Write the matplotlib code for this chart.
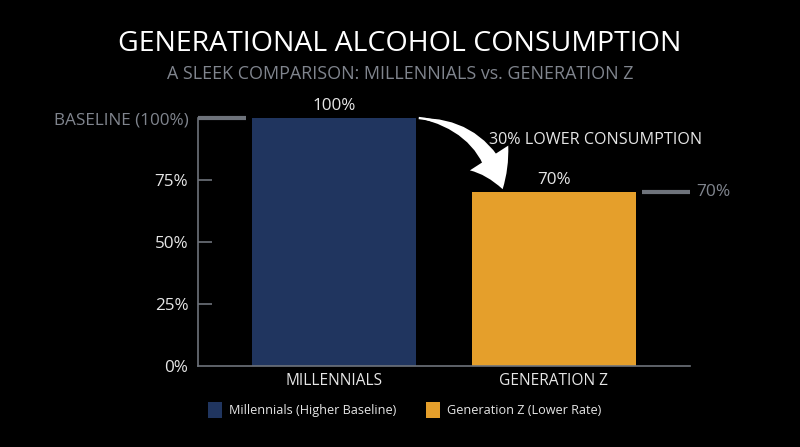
import matplotlib
matplotlib.use("Agg")
import matplotlib.pyplot as plt
from matplotlib.patches import FancyArrowPatch, Patch
from matplotlib.transforms import blended_transform_factory

# ---- data ----
categories = ["MILLENNIALS", "GENERATION Z"]
values = [100, 70]
legend_labels = ["Millennials (Higher Baseline)", "Generation Z (Lower Rate)"]
yticks = [0, 25, 50, 75, 100]
ytick_labels = ["0%", "25%", "50%", "75%", "BASELINE (100%)"]
value_labels = ["100%", "70%"]
diff_label = "30% LOWER CONSUMPTION"
title = "GENERATIONAL ALCOHOL CONSUMPTION"
subtitle = "A SLEEK COMPARISON: MILLENNIALS vs. GENERATION Z"

# ---- style ----
FONT = ["Open Sans", "DejaVu Sans"]
plt.rcParams["font.family"] = FONT
BG = "#000000"
NAVY = "#20355f"
ORANGE = "#e59f2b"
GRAY = "#6e737b"
LIGHT = "#e6e6e6"
SUB = "#80858e"

fig = plt.figure(figsize=(8, 4.47), dpi=100, facecolor=BG)
ax = fig.add_axes([0.2475, 0.1812, 0.615, 0.5548], facecolor=BG)

x = list(range(len(categories)))
ax.bar(x, values, width=0.747, color=[NAVY, ORANGE], zorder=2)
ax.set_xlim(-0.62, 1.62)
ax.set_ylim(0, 100)

for s in ["top", "right"]:
    ax.spines[s].set_visible(False)
for s in ["left", "bottom"]:
    ax.spines[s].set_color(GRAY)
    ax.spines[s].set_linewidth(1.2)

ax.set_xticks(x)
ax.set_xticklabels(categories, color=LIGHT, fontsize=11.2)
ax.tick_params(axis="x", length=0, pad=5)
ax.set_yticks(yticks)
ax.set_yticklabels(ytick_labels, fontsize=12.3)
ax.tick_params(axis="y", direction="in", length=10, color=GRAY, width=1.2, pad=7)
for lbl in ax.get_yticklabels():
    lbl.set_color(SUB if "BASELINE" in lbl.get_text() else LIGHT)
ax.yaxis.get_major_ticks()[-1].tick1line.set_visible(False)
ax.yaxis.get_major_ticks()[0].tick1line.set_visible(False)

# baseline marker segment at left
tr = blended_transform_factory(ax.transAxes, ax.transData)
ax.plot([0, 0.097], [values[0], values[0]], transform=tr, color=GRAY,
        lw=3, solid_capstyle="butt", clip_on=False, zorder=3)
# 70% reference segment at right
ax.plot([0.902, 1.0], [values[1], values[1]], transform=tr, color=GRAY,
        lw=3, solid_capstyle="butt", clip_on=False, zorder=3)
ax.text(1.012, values[1], value_labels[1], transform=tr, color=SUB,
        fontsize=12.5, va="center", ha="left")

# value labels
for xi, v, lab in zip(x, values, value_labels):
    ax.text(xi, v + 5.0, lab, color=LIGHT, fontsize=12.3, ha="center", va="center",
            clip_on=False)

# curved tapered arrow: wedge body + arrow head
start = (0.385, values[0])
tip = (0.767, values[1] + 1.3)
RAD = -0.34
body = FancyArrowPatch(tip, start, connectionstyle=f"arc3,rad={-RAD}",
                       arrowstyle="wedge,tail_width=1.0,shrink_factor=0.55",
                       mutation_scale=14, color="white", zorder=4, clip_on=False,
                       shrinkA=14, shrinkB=0, lw=0)
ax.add_patch(body)
head = FancyArrowPatch(start, tip, connectionstyle=f"arc3,rad={RAD}",
                       arrowstyle="simple,head_width=2.35,head_length=1.75,tail_width=0.12",
                       mutation_scale=14, color="white", zorder=4, clip_on=False,
                       shrinkA=0, shrinkB=0, lw=0)
ax.add_patch(head)

ax.text(1.19, 91, diff_label, color=LIGHT, fontsize=11.6, ha="center",
        va="center", clip_on=False)

# titles
fig.text(0.5, 0.902, title, color="white", fontsize=20.5, ha="center", va="center")
fig.text(0.5, 0.835, subtitle, color=SUB, fontsize=12.9, ha="center", va="center")

# legend
handles = [Patch(facecolor=NAVY), Patch(facecolor=ORANGE)]
fig.legend(handles, legend_labels, loc="center", bbox_to_anchor=(0.506, 0.083),
           ncol=2, frameon=False, fontsize=9.1, labelcolor=LIGHT,
           handlelength=1.1, handleheight=1.5, handletextpad=0.6,
           columnspacing=2.3)

fig.savefig("out.png", dpi=100, facecolor=BG)
